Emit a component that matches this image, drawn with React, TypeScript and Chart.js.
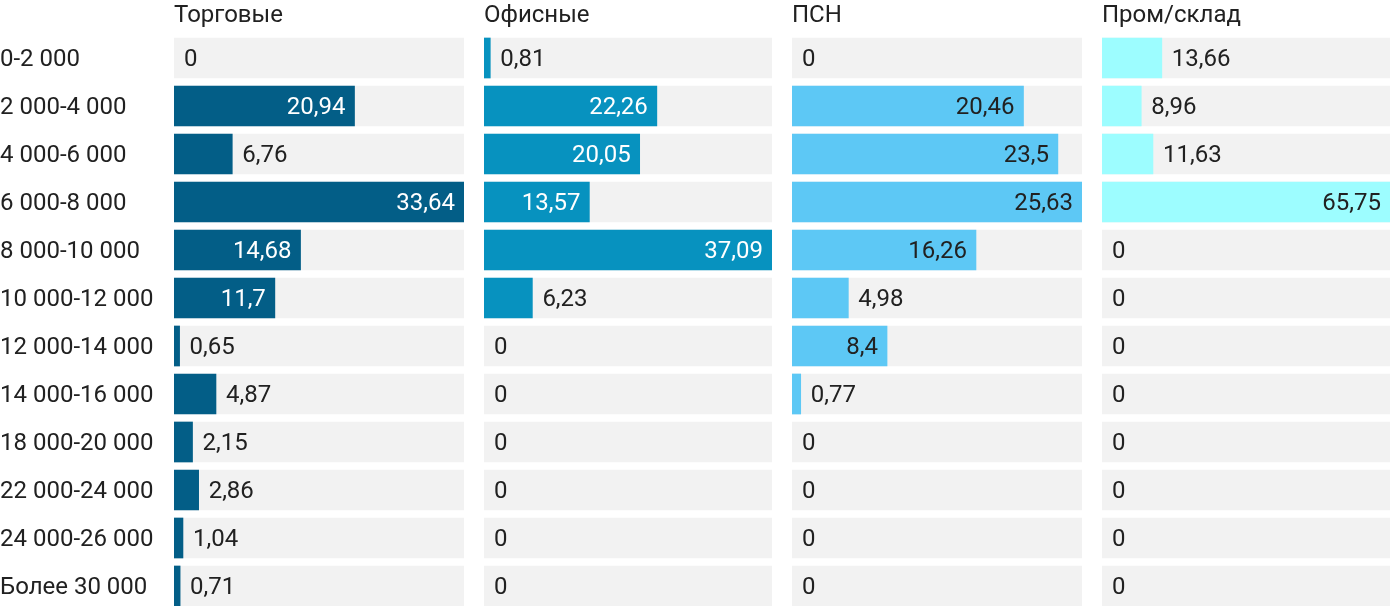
import React, { useEffect, useRef } from "react";
import { Chart, registerables } from "chart.js";

Chart.register(...registerables);

const categories = [
  "0-2 000",
  "2 000-4 000",
  "4 000-6 000",
  "6 000-8 000",
  "8 000-10 000",
  "10 000-12 000",
  "12 000-14 000",
  "14 000-16 000",
  "18 000-20 000",
  "22 000-24 000",
  "24 000-26 000",
  "Более 30 000",
];

const trade = [0, 20.94, 6.76, 33.64, 14.68, 11.7, 0.65, 4.87, 2.15, 2.86, 1.04, 0.71];
const office = [0.81, 22.26, 20.05, 13.57, 37.09, 6.23, 0, 0, 0, 0, 0, 0];
const psn = [0, 20.46, 23.5, 25.63, 16.26, 4.98, 8.4, 0.77, 0, 0, 0, 0];
const warehouse = [13.66, 8.96, 11.63, 65.75, 0, 0, 0, 0, 0, 0, 0, 0];

const titles = ["Торговые", "Офисные", "ПСН", "Пром/склад"];

const FONT = "Roboto";
const FONT_SIZE = 24;
const DARK = "#212121";
const TRACK = "#f2f2f2";

type Panel = {
  title: string;
  values: number[];
  color: string;
  inside: string;
  left: number;
  width: number;
  showCats: boolean;
};

const panels: Panel[] = [
  { title: titles[0], values: trade, color: "#035e87", inside: "#ffffff", left: 0, width: 464, showCats: true },
  { title: titles[1], values: office, color: "#0792bf", inside: "#ffffff", left: 484, width: 288, showCats: false },
  { title: titles[2], values: psn, color: "#5dc8f5", inside: DARK, left: 792, width: 290, showCats: false },
  { title: titles[3], values: warehouse, color: "#9dfdff", inside: DARK, left: 1102, width: 288, showCats: false },
];

const fmt = (v: number) => String(v).replace(".", ",");

function PanelChart({ p }: { p: Panel }) {
  const ref = useRef<HTMLCanvasElement | null>(null);
  useEffect(() => {
    if (!ref.current) return;
    const max = Math.max(...p.values);
    const track = categories.map(() => max);
    const labelPlugin = {
      id: "valueLabels",
      afterDatasetsDraw(chart: any) {
        const ctx = chart.ctx;
        const meta = chart.getDatasetMeta(0);
        ctx.save();
        ctx.font = `${FONT_SIZE}px ${FONT}`;
        ctx.textBaseline = "middle";
        meta.data.forEach((bar: any, i: number) => {
          const v = p.values[i];
          const text = fmt(v);
          const { x, y, base } = bar.getProps(["x", "y", "base"], true);
          const bw = x - base;
          const tw = ctx.measureText(text).width;
          if (bw > tw + 24) {
            ctx.fillStyle = p.inside;
            ctx.textAlign = "right";
            ctx.fillText(text, x - 9, y + 2);
          } else {
            ctx.fillStyle = DARK;
            ctx.textAlign = "left";
            ctx.fillText(text, x + 10, y + 2);
          }
        });
        ctx.restore();
      },
    };
    const chart = new Chart(ref.current, {
      type: "bar",
      data: {
        labels: categories,
        datasets: [
          {
            data: p.values,
            backgroundColor: p.values.map((v) => (v === 0 ? "rgba(0,0,0,0)" : p.color)),
            barThickness: 40,
            grouped: false,
            order: 0,
          },
          {
            data: track,
            backgroundColor: TRACK,
            barThickness: 40,
            grouped: false,
            order: 1,
          },
        ],
      },
      options: {
        indexAxis: "y",
        animation: false,
        responsive: false,
        devicePixelRatio: 1,
        layout: { padding: 0 },
        plugins: {
          legend: { display: false },
          tooltip: { enabled: false },
          title: { display: false },
        },
        scales: {
          x: {
            position: "top",
            min: 0,
            max: max,
            ticks: { display: false },
            grid: { display: false },
            border: { display: false },
            title: {
              display: true,
              text: p.title,
              align: "start",
              color: DARK,
              font: { family: FONT, size: FONT_SIZE, lineHeight: 1 },
              padding: { top: 4, bottom: 0 },
            },
            afterFit: (s: any) => {
              s.height = 34;
              s.paddingLeft = 0;
              s.paddingRight = 0;
            },
          },
          y: {
            display: p.showCats,
            offset: true,
            ticks: {
              crossAlign: "far",
              color: DARK,
              font: { family: FONT, size: FONT_SIZE },
              padding: 0,
              labelOffset: 2,
            },
            grid: { display: false },
            border: { display: false },
            afterFit: (s: any) => {
              s.width = p.showCats ? 174 : 0;
              s.paddingTop = 0;
              s.paddingBottom = 0;
            },
          },
        },
      },
      plugins: [labelPlugin],
    } as any);
    return () => chart.destroy();
  }, [p]);
  return (
    <canvas
      ref={ref}
      width={p.width}
      height={610}
      style={{ position: "absolute", left: p.left, top: 0, width: p.width, height: 610 }}
    />
  );
}

export default function App() {
  return (
    <div
      style={{
        position: "fixed",
        left: 0,
        top: 0,
        width: 1400,
        height: 606,
        overflow: "hidden",
        background: "#ffffff",
      }}
    >
      {panels.map((p) => (
        <PanelChart key={p.title} p={p} />
      ))}
    </div>
  );
}
